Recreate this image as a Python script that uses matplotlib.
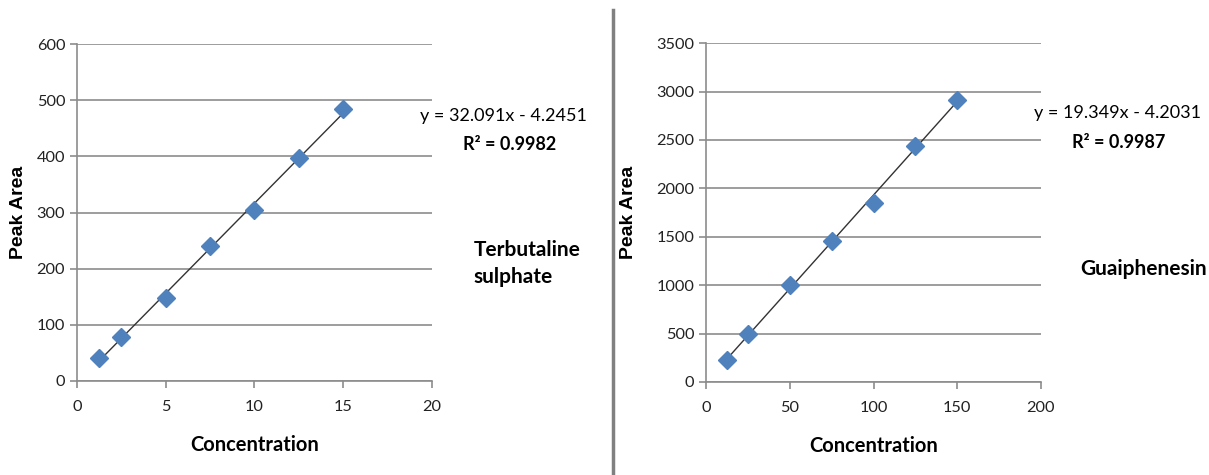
import numpy as np
import matplotlib.pyplot as plt
import matplotlib.lines as mlines

plt.rcParams['font.family'] = ['Lato', 'DejaVu Sans']

# Terbutaline sulphate calibration
terb_conc = [1.25, 2.5, 5, 7.5, 10, 12.5, 15]
terb_area = [40, 78, 148, 240, 305, 398, 484]
terb_slope, terb_icpt = 32.091, -4.2451
terb_r2 = 0.9982

# Guaiphenesin calibration
guai_conc = [12.5, 25, 50, 75, 100, 125, 150]
guai_area = [230, 500, 1000, 1460, 1850, 2440, 2910]
guai_slope, guai_icpt = 19.349, -4.2031
guai_r2 = 0.9987

grid_col = '#8c8c8c'
marker_col = '#4f81bd'


def calib_plot(ax, x, y, slope, icpt, xmax, ymax, ystep, xstep, ylab_x):
    x = np.array(x)
    ax.plot(x, y, linestyle='none', marker='D', markersize=9,
            color=marker_col, zorder=3)
    # trendline over the data range
    xs = np.array([x.min(), x.max()])
    ax.plot(xs, slope * xs + icpt, color='#333333', lw=1, zorder=2)
    ax.set_xlim(0, xmax)
    ax.set_ylim(0, ymax)
    ax.set_xticks(np.arange(0, xmax + 1, xstep))
    ax.set_yticks(np.arange(0, ymax + 1, ystep))
    ax.yaxis.grid(True, color=grid_col, lw=1.2)
    ax.set_axisbelow(True)
    for s in ['top', 'right']:
        ax.spines[s].set_visible(False)
    for s in ['left', 'bottom']:
        ax.spines[s].set_color(grid_col)
        ax.spines[s].set_linewidth(1.2)
    ax.tick_params(axis='both', colors=grid_col, length=5, width=1.2,
                   labelcolor='#222222', labelsize=11.8)
    ax.tick_params(axis='x', pad=9)
    ax.set_ylabel('Peak Area', family='Liberation Sans', fontweight='bold',
                  fontsize=14)
    ax.yaxis.set_label_coords(ylab_x, 0.5)
    ax.set_xlabel('Concentration', fontsize=14.5, labelpad=15,
                  fontweight='bold')


fig = plt.figure(figsize=(12.09, 4.75), dpi=100)
ax1 = fig.add_axes([0.0637, 0.198, 0.2936, 0.709])
ax2 = fig.add_axes([0.584, 0.196, 0.277, 0.713])

calib_plot(ax1, terb_conc, terb_area, terb_slope, terb_icpt, 20, 600, 100, 5, -0.142)
calib_plot(ax2, guai_conc, guai_area, guai_slope, guai_icpt, 200, 3500, 500, 50, -0.206)

# equations and labels
fig.text(0.4165, 0.755, f'y = {terb_slope}x - {-terb_icpt}', fontsize=13,
         ha='center', va='center')
fig.text(0.4215, 0.695, f'R² = {terb_r2}', fontsize=13, fontweight='bold',
         ha='center', va='center')
fig.text(0.392, 0.445, 'Terbutaline\nsulphate', fontsize=15, fontweight='bold',
         ha='left', va='center', linespacing=1.45)

fig.text(0.924, 0.762, f'y = {guai_slope}x - {-guai_icpt}', fontsize=13,
         ha='center', va='center')
fig.text(0.925, 0.700, f'R² = {guai_r2}', fontsize=13, fontweight='bold',
         ha='center', va='center')
fig.text(0.9455, 0.434, 'Guaiphenesin', fontsize=15, fontweight='bold',
         ha='center', va='center')

# separator between the two panels
fig.add_artist(mlines.Line2D([0.507, 0.507], [0.0, 0.98], color='#808080',
                             lw=2.5, transform=fig.transFigure))

fig.savefig('out.png', dpi=100)
